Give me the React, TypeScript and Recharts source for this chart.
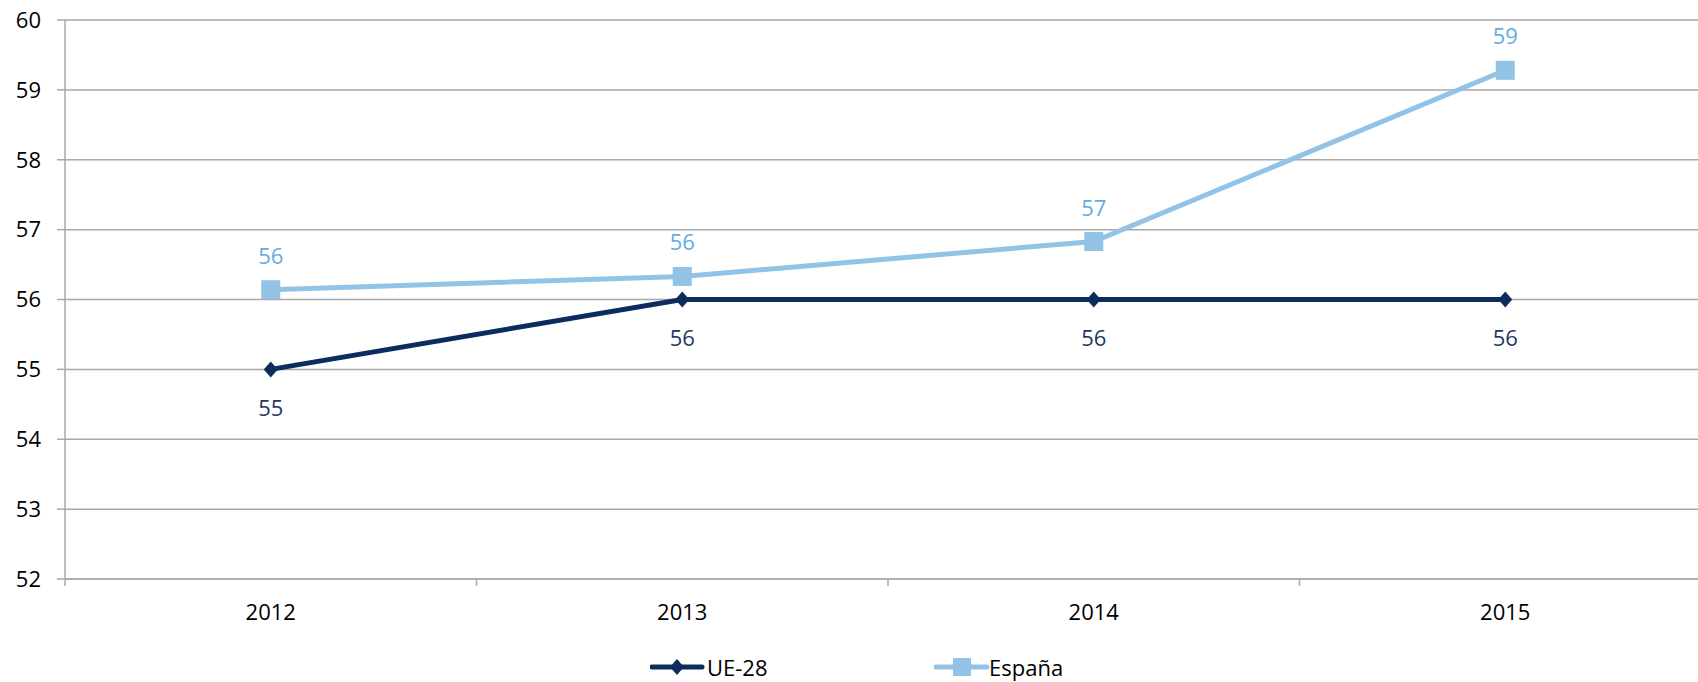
import React from "react";
import { LineChart, Line, XAxis, YAxis, CartesianGrid, LabelList } from "recharts";

const years = ["2012", "2013", "2014", "2015"];
const ue28 = [55, 56, 56, 56];
const espana = [56.14, 56.33, 56.83, 59.28];
const yTicks = [52, 53, 54, 55, 56, 57, 58, 59, 60];

const data = years.map((y, i) => ({ year: y, ue: ue28[i], es: espana[i] }));

const W = 1711;
const H = 682;
const LEFT = 65;
const HALF = (W - LEFT) / years.length / 2;
const FONT = "'Open Sans', 'DejaVu Sans', sans-serif";
const FS = 22;
const GRID = "#a9a9a9";
const NAVY = "#0c2c5e";
const LIGHT = "#92c3e6";
const LIGHT_TXT = "#62ace0";
const NAVY_TXT = "#1f3864";

const Diamond = (props: any) => {
  const { cx, cy } = props;
  if (cx == null || cy == null) return null;
  return <polygon points={`${cx},${cy - 8} ${cx + 7},${cy} ${cx},${cy + 8} ${cx - 7},${cy}`} fill={NAVY} />;
};

const Square = (props: any) => {
  const { cx, cy } = props;
  if (cx == null || cy == null) return null;
  return <rect x={cx - 9.5} y={cy - 9.5} width={19} height={19} fill={LIGHT} />;
};

const XTick = (props: any) => {
  const { x, y, payload, index } = props;
  return (
    <g>
      <text x={x} y={y + 41} textAnchor="middle" fontSize={FS} fill="#000" fontFamily={FONT}>
        {payload.value}
      </text>
      <line x1={x - HALF} x2={x - HALF} y1={y} y2={y + 7} stroke={GRID} strokeWidth={1.5} />
      {index === years.length - 1 && (
        <line x1={x + HALF} x2={x + HALF} y1={y} y2={y + 7} stroke={GRID} strokeWidth={1.5} />
      )}
    </g>
  );
};

const fmt = (v: any) => Math.round(Number(v)).toString();

export default function App() {
  return (
    <div style={{ position: "fixed", left: 0, top: 0, width: 1698, height: 682, overflow: "hidden", background: "#fff" }}>
      <LineChart width={W} height={H} data={data} margin={{ top: 20, right: 0, bottom: 0, left: 0 }}>
        <CartesianGrid vertical={false} stroke={GRID} strokeWidth={1.5} />
        <XAxis
          dataKey="year"
          height={103}
          padding={{ left: HALF, right: HALF }}
          tickLine={false}
          tickSize={0}
          tickMargin={0}
          axisLine={{ stroke: GRID, strokeWidth: 1.5 }}
          tick={<XTick />}
          interval={0}
        />
        <YAxis
          width={LEFT}
          domain={[52, 60]}
          ticks={yTicks}
          interval={0}
          tickSize={8}
          tickMargin={16}
          axisLine={{ stroke: GRID, strokeWidth: 1.5 }}
          tickLine={{ stroke: GRID, strokeWidth: 1.5 }}
          tick={{ fontSize: FS, fill: "#000", fontFamily: FONT }}
        />
        <Line
          dataKey="ue"
          stroke={NAVY}
          strokeWidth={5}
          dot={<Diamond />}
          activeDot={false}
          isAnimationActive={false}
        >
          <LabelList
            dataKey="ue"
            position="bottom"
            offset={31}
            formatter={fmt}
            style={{ fontSize: FS, fill: NAVY_TXT, fontFamily: FONT }}
          />
        </Line>
        <Line
          dataKey="es"
          stroke={LIGHT}
          strokeWidth={5}
          dot={<Square />}
          activeDot={false}
          isAnimationActive={false}
        >
          <LabelList
            dataKey="es"
            position="top"
            offset={26}
            formatter={fmt}
            style={{ fontSize: FS, fill: LIGHT_TXT, fontFamily: FONT }}
          />
        </Line>
      </LineChart>
      <div
        style={{
          position: "absolute",
          top: 653,
          left: 0,
          width: 1698,
          height: 28,
          fontFamily: FONT,
          fontSize: FS,
          color: "#000",
        }}
      >
        <svg width={56} height={28} style={{ position: "absolute", left: 650, top: 0 }}>
          <line x1={2} x2={52} y1={14} y2={14} stroke={NAVY} strokeWidth={5} strokeLinecap="round" />
          <polygon points="27,6 34,14 27,22 20,14" fill={NAVY} />
        </svg>
        <span style={{ position: "absolute", left: 707, top: 0, lineHeight: "28px" }}>UE-28</span>
        <svg width={56} height={28} style={{ position: "absolute", left: 934, top: 0 }}>
          <line x1={2} x2={53} y1={14} y2={14} stroke={LIGHT} strokeWidth={5} strokeLinecap="round" />
          <rect x={19} y={5} width={18} height={18} fill={LIGHT} />
        </svg>
        <span style={{ position: "absolute", left: 989, top: 0, lineHeight: "28px" }}>España</span>
      </div>
    </div>
  );
}
